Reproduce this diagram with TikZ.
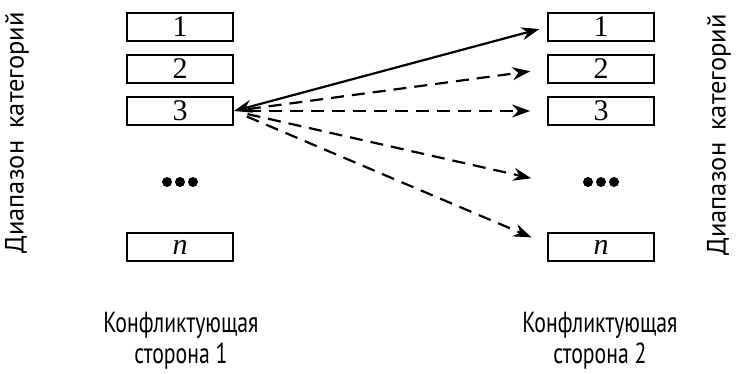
\documentclass[tikz,border=0pt]{standalone}
\usepackage{fontspec}
\setmainfont{Liberation Serif}
\newfontfamily\labfont{PT Sans}
\newfontfamily\labfontc[FakeStretch=0.75]{PT Sans}
\usetikzlibrary{arrows.meta}
\tikzset{
  catbox/.style={draw, line width=1.8pt, minimum width=106pt, minimum height=28pt, inner sep=0pt, font=\fontsize{30}{30}\selectfont},
  dotsbox/.style={minimum width=106pt, minimum height=28pt, inner sep=0pt},
  sidelab/.style={font=\labfont\fontsize{26.5}{30}\selectfont},
  lab/.style={font=\labfontc\fontsize{29}{31}\selectfont, align=center},
  tip/.style={-{Stealth[length=18pt,width=13pt,inset=6pt]}},
  conn/.style={line width=2.2pt},
  dconn/.style={conn, tip, dash pattern=on 13pt off 8pt, shorten <=14pt, shorten >=17pt},
}
\begin{document}
\begin{tikzpicture}[x=1pt,y=-1pt]
\useasboundingbox (0,0) rectangle (742,373);
% left column
\node[catbox] (l1) at (180,27) {1};
\node[catbox] (l2) at (180,69) {2};
\node[catbox] (l3) at (180,111) {3};
\node[dotsbox] (ld) at (180,182) {};
\node[catbox] (ln) at (180,247) {\itshape n};
% right column
\node[catbox] (r1) at (601,27) {1};
\node[catbox] (r2) at (601,69) {2};
\node[catbox] (r3) at (601,111) {3};
\node[dotsbox] (rd) at (601,182) {};
\node[catbox] (rn) at (601,247) {\itshape n};
% dots
\foreach \c in {ld,rd}{
  \fill ([xshift=-13pt]\c.center) circle (5pt);
  \fill (\c.center) circle (5pt);
  \fill ([xshift=13pt]\c.center) circle (5pt);
}
% side labels
\node[sidelab, rotate=90] (sl) at (17,133) {Диапазон\hspace{12pt}категорий};
\node[sidelab, rotate=90] (sr) at (719,135) {Диапазон\hspace{12pt}категорий};
% bottom labels
\node[lab] (bl) at (181,341) {Конфликтующая\\сторона 1};
\node[lab] (br) at (600,341) {Конфликтующая\\сторона 2};
% connectors
\draw[conn, {Stealth[length=18pt,width=13pt,inset=6pt]}-{Stealth[length=18pt,width=13pt,inset=6pt]}, shorten >=8pt] (l3.east) -- (r1.west);
\draw[dconn] (l3.east) -- (r2.west);
\draw[dconn] (l3.east) -- (r3.west);
\draw[dconn] (l3.east) -- (rd.west);
\draw[dconn] (l3.east) -- ([yshift=3pt]rn.west);
\end{tikzpicture}
\end{document}
